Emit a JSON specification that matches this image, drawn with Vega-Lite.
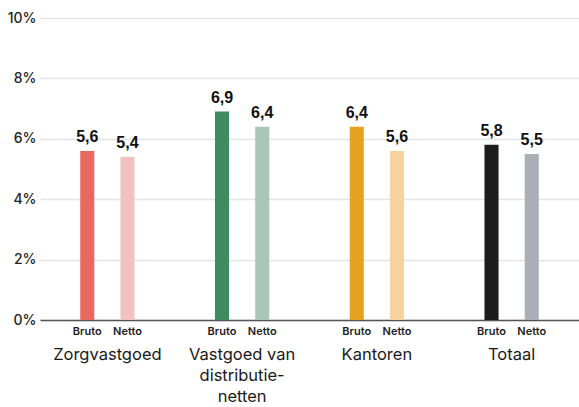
{
  "$schema": "https://vega.github.io/schema/vega-lite/v6.json",
  "autosize": "none",
  "width": 539,
  "height": 302,
  "padding": {"left": 40, "top": 18, "right": 0, "bottom": 87},
  "background": "white",
  "config": {
    "view": {"stroke": null},
    "font": "Inter",
    "locale": {"number": {"decimal": ",", "thousands": ".", "grouping": [3], "currency": ["€", ""]}}
  },
  "data": {
    "values": [
      {"groep": "Zorgvastgoed", "type": "Bruto", "waarde": 5.6},
      {"groep": "Zorgvastgoed", "type": "Netto", "waarde": 5.4},
      {"groep": "Vastgoed van distributienetten", "type": "Bruto", "waarde": 6.9},
      {"groep": "Vastgoed van distributienetten", "type": "Netto", "waarde": 6.4},
      {"groep": "Kantoren", "type": "Bruto", "waarde": 6.4},
      {"groep": "Kantoren", "type": "Netto", "waarde": 5.6},
      {"groep": "Totaal", "type": "Bruto", "waarde": 5.8},
      {"groep": "Totaal", "type": "Netto", "waarde": 5.5}
    ]
  },
  "transform": [{"calculate": "datum.groep + ' ' + datum.type", "as": "sleutel"}],
  "encoding": {
    "x": {
      "field": "groep", "type": "nominal", "sort": null,
      "scale": {"paddingInner": 0, "paddingOuter": 0},
      "axis": {
        "title": null, "labelAngle": 0, "ticks": false,
        "domainColor": "#555555", "domainWidth": 1.5,
        "labelFontSize": 16.5, "labelColor": "#1a1a1a", "labelPadding": 26,
        "labelBaseline": "top", "labelLineHeight": 21,
        "labelExpr": "datum.label == 'Vastgoed van distributienetten' ? ['Vastgoed van', 'distributie-', 'netten'] : datum.label"
      }
    },
    "xOffset": {
      "field": "type", "type": "nominal",
      "scale": {"paddingInner": 0.65, "paddingOuter": 1.075}
    }
  },
  "layer": [
    {
      "mark": {"type": "bar"},
      "encoding": {
        "y": {
          "field": "waarde", "type": "quantitative",
          "scale": {"domain": [0, 10]},
          "axis": {
            "title": null, "values": [0, 2, 4, 6, 8, 10],
            "labelExpr": "datum.value + '%'",
            "domain": false, "ticks": false,
            "gridColor": "#e4e4e4", "gridWidth": 1.5,
            "labelFontSize": 14, "labelColor": "#222222", "labelPadding": 4, "labelFontWeight": 500
          }
        },
        "color": {
          "field": "sleutel", "type": "nominal", "legend": null,
          "scale": {
            "domain": ["Zorgvastgoed Bruto", "Zorgvastgoed Netto", "Vastgoed van distributienetten Bruto", "Vastgoed van distributienetten Netto", "Kantoren Bruto", "Kantoren Netto", "Totaal Bruto", "Totaal Netto"],
            "range": ["#e8695e", "#f3c1c1", "#3f8a5e", "#a9c6b9", "#e5a21f", "#f4d49c", "#1c1c1c", "#a8b0b6"]
          }
        }
      }
    },
    {
      "mark": {"type": "text", "baseline": "bottom", "dy": -6, "fontSize": 16, "fontWeight": "bold", "font": "Liberation Sans", "color": "#111111"},
      "encoding": {
        "y": {"field": "waarde", "type": "quantitative"},
        "text": {"field": "waarde", "type": "quantitative", "format": ".1f"}
      }
    },
    {
      "mark": {"type": "text", "baseline": "top", "dy": 6, "fontSize": 11, "fontWeight": 600, "color": "#222222"},
      "encoding": {
        "y": {"datum": 0, "type": "quantitative"},
        "text": {"field": "type"}
      }
    }
  ]
}
